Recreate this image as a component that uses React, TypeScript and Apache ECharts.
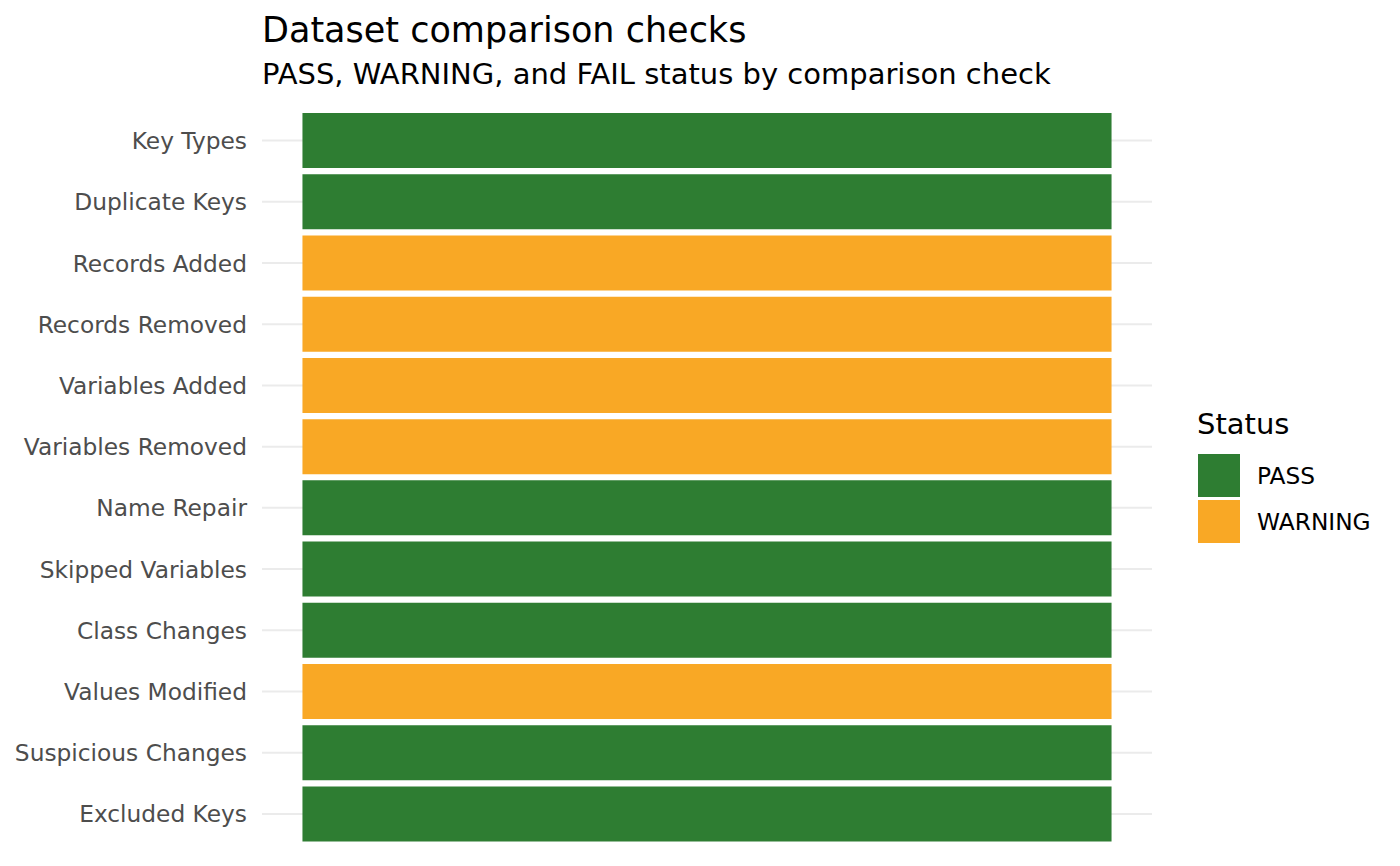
import React, { useEffect, useRef } from "react";
import * as echarts from "echarts";

const categories = [
  "Key Types",
  "Duplicate Keys",
  "Records Added",
  "Records Removed",
  "Variables Added",
  "Variables Removed",
  "Name Repair",
  "Skipped Variables",
  "Class Changes",
  "Values Modified",
  "Suspicious Changes",
  "Excluded Keys",
];

const statuses = [
  "PASS",
  "PASS",
  "WARNING",
  "WARNING",
  "WARNING",
  "WARNING",
  "PASS",
  "PASS",
  "PASS",
  "WARNING",
  "PASS",
  "PASS",
];

const statusLevels = ["PASS", "WARNING"];
const statusColors: Record<string, string> = { PASS: "#2E7D32", WARNING: "#F9A825" };

const FONT = "DejaVu Sans";

export default function App() {
  const ref = useRef<HTMLDivElement>(null);

  useEffect(() => {
    document.body.style.margin = "0";
    if (!ref.current) return;
    const chart = echarts.init(ref.current, undefined, { renderer: "svg" });

    const tileSeries = statusLevels.map((s) => ({
      name: s,
      type: "bar",
      barWidth: 55,
      barGap: "-100%",
      z: 3,
      itemStyle: { color: statusColors[s] },
      data: statuses.map((st) => (st === s ? 1 : "-")),
    }));

    const option: any = {
      animation: false,
      backgroundColor: "#FFFFFF",
      textStyle: { fontFamily: FONT },
      grid: { left: 262, width: 890, top: 110, height: 734.5 },
      xAxis: {
        type: "value",
        min: -0.05,
        max: 1.05,
        show: false,
        splitLine: { show: false },
      },
      yAxis: {
        type: "category",
        data: categories,
        inverse: true,
        axisLine: { show: false },
        axisTick: { show: false },
        splitLine: { show: false },
        axisLabel: {
          margin: 15,
          color: "#4D4D4D",
          fontSize: 23.3,
          fontFamily: FONT,
        },
      },
      legend: {
        data: statusLevels,
        orient: "vertical",
        left: 1198,
        top: 454,
        padding: 0,
        itemWidth: 42,
        itemHeight: 43,
        itemGap: 3,
        icon: "rect",
        selectedMode: false,
        textStyle: {
          fontSize: 23.3,
          color: "#000000",
          fontFamily: FONT,
          padding: [0, 0, 0, 12],
        },
      },
      graphic: [
        {
          type: "text",
          left: 262,
          top: 12,
          style: { text: "Dataset comparison checks", fontSize: 35, fill: "#000000", fontFamily: FONT },
        },
        {
          type: "text",
          left: 262,
          top: 59,
          style: {
            text: "PASS, WARNING, and FAIL status by comparison check",
            fontSize: 29,
            fill: "#000000",
            fontFamily: FONT,
          },
        },
        {
          type: "text",
          left: 1197,
          top: 409,
          style: { text: "Status", fontSize: 29, fill: "#000000", fontFamily: FONT },
        },
      ],
      series: [
        {
          type: "custom",
          name: "grid",
          silent: true,
          z: 1,
          data: categories.map((c, i) => [0, i]),
          renderItem: (params: any, api: any) => {
            const cs = params.coordSys;
            const y = api.coord([0, api.value(1)])[1];
            return {
              type: "line",
              shape: { x1: cs.x, y1: y, x2: cs.x + cs.width, y2: y },
              style: { stroke: "#EBEBEB", lineWidth: 2 },
            };
          },
        },
        ...tileSeries,
      ],
    };

    chart.setOption(option);
    return () => chart.dispose();
  }, []);

  return <div ref={ref} style={{ width: 1400, height: 866 }} />;
}
